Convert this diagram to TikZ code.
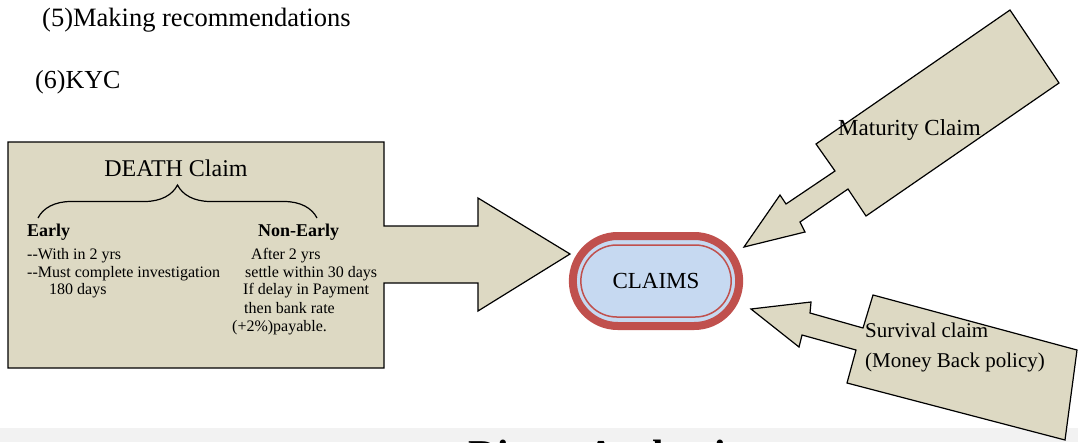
\documentclass[tikz,border=0pt]{standalone}
\usepackage{fontspec}
\setmainfont{Liberation Serif}
\usetikzlibrary{shapes.misc,decorations.pathreplacing}
\definecolor{khaki}{HTML}{DDD9C3}
\definecolor{claimred}{HTML}{C0504D}
\definecolor{claimblue}{HTML}{C6D9F1}
\definecolor{bandgrey}{HTML}{F2F2F2}
\tikzset{
    callout/.style={draw=black, fill=khaki, line width=1.2pt, line join=miter},
    txt/.style={inner sep=0pt, anchor=base west, font=\fontsize{16}{18}\selectfont},
}
\begin{document}
\begin{tikzpicture}[x=1pt,y=-1pt]
\clip (0,0) rectangle (1078,442);
\fill[white] (0,0) rectangle (1078,442);
\fill[bandgrey] (0,428) rectangle (1078,442);
\node[txt, font=\bfseries\fontsize{41}{45}\selectfont] (title) at (468,468) {Direct Authority};

% top lines
\node[txt, font=\fontsize{26.5}{29}\selectfont] (rec) at (42,26) {(5)Making recommendations};
\node[txt, font=\fontsize{26}{29}\selectfont] (kyc) at (35,88) {(6)KYC};

% death claim callout
\draw[callout] (8,142) -- (384,142) -- (384,226) -- (478,226) -- (478,198) -- (570,254)
    -- (478,311) -- (478,283) -- (384,283) -- (384,368) -- (8,368) -- cycle;
\node[inner sep=0pt, anchor=base, font=\fontsize{24}{26}\selectfont] (death) at (176,176) {DEATH Claim};
\draw[decorate, decoration={brace, amplitude=33pt}, line width=1.2pt] (38,218) -- (317,218);
\node[txt, font=\bfseries\fontsize{18}{20}\selectfont] (early) at (27,236) {Early};
\node[txt, font=\bfseries\fontsize{18}{20}\selectfont] (nonearly) at (258,236) {Non-Early};
\foreach \i/\x/\y/\t in {1/27/259/{{-}{-}With in 2 yrs}, 2/27/277/{{-}{-}Must complete investigation}, 3/49/294/{180 days}}
{
    \node[txt] (early\i) at (\x,\y) {\t};
}
\foreach \i/\x/\y/\t in {1/251/259/{After 2 yrs}, 2/245/277/{settle within 30 days}, 3/243/294/{If delay in Payment}, 4/244/313/{then bank rate}, 5/232/331/{(+2\%)payable.}}
{
    \node[txt] (late\i) at (\x,\y) {\t};
}

% claims
\node[rounded rectangle, draw=claimred, fill=claimblue, line width=8pt, minimum width=173pt,
    minimum height=90pt, font=\fontsize{23}{26}\selectfont] (claims) at (656,281) {CLAIMS};
\node[rounded rectangle, draw=claimred, line width=1.5pt, minimum width=157pt,
    minimum height=72pt] (claimsin) at (claims.center) {};

% maturity claim callout
\draw[callout] (1010,10) -- (1059,83) -- (866,216) -- (848,189) -- (800,222) -- (805,232)
    -- (744,247) -- (780,195) -- (786,204) -- (835,171) -- (816,144) -- cycle;
\node[txt, font=\fontsize{23}{26}\selectfont] (maturity) at (838,135) {Maturity Claim};

% survival claim callout
\draw[callout] (873,295) -- (1077,350) -- (1065,440) -- (847,383) -- (856,350) -- (802,335)
    -- (799,347) -- (751,309) -- (811,302) -- (810,313) -- (863,328) -- cycle;
\node[txt, font=\fontsize{21}{24}\selectfont] (survival) at (865,337) {Survival claim};
\node[txt, font=\fontsize{21}{24}\selectfont] (moneyback) at (865,367) {(Money Back policy)};
\end{tikzpicture}
\end{document}
